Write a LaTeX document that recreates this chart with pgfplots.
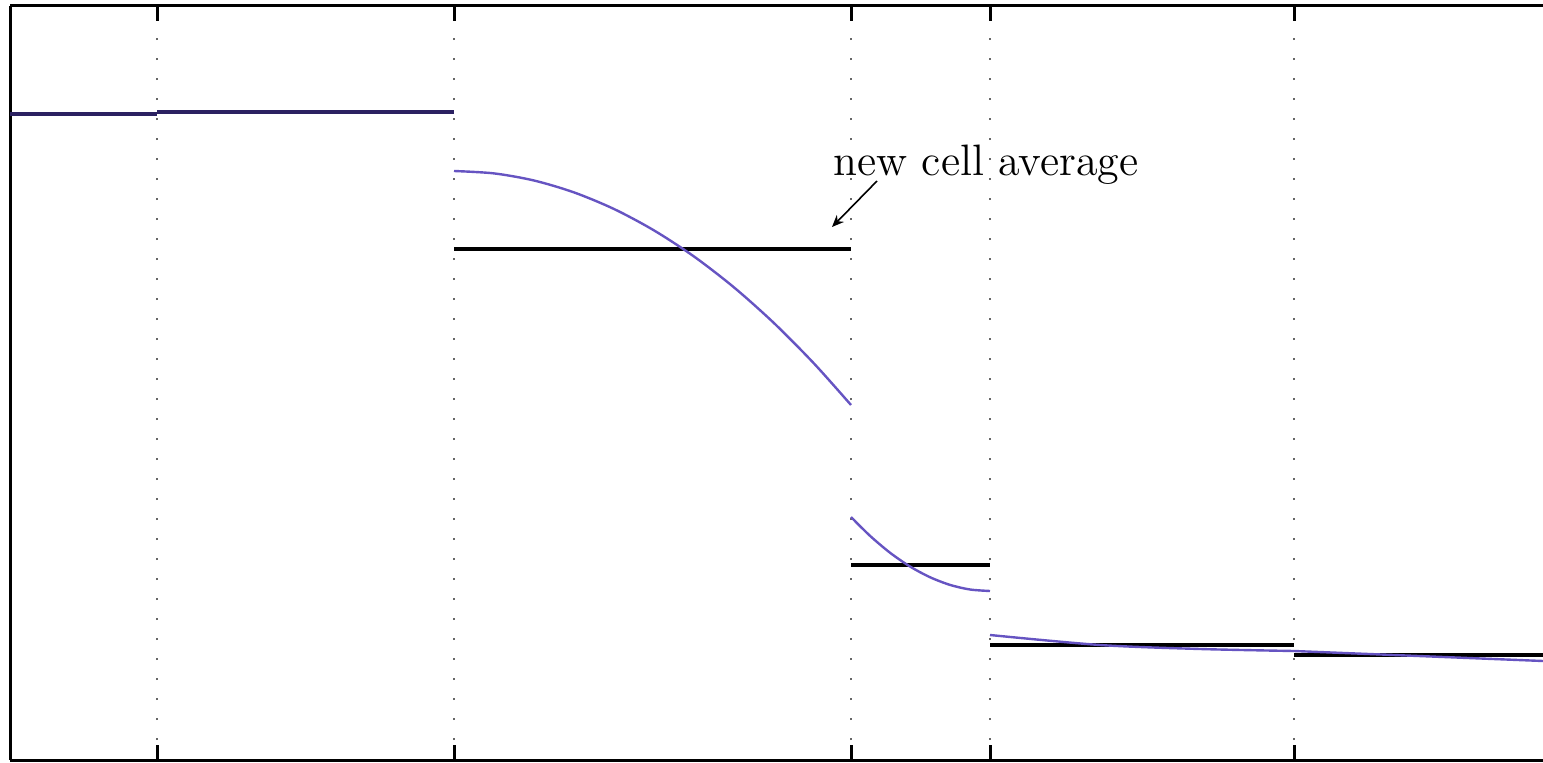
\documentclass[border=0pt]{standalone}
\usepackage{pgfplots}
\pgfplotsset{compat=1.18}
\usetikzlibrary{arrows.meta}
\definecolor{curveblue}{rgb}{0.40,0.33,0.76}
\definecolor{navy}{rgb}{0.17,0.13,0.38}
\begin{document}
\begin{tikzpicture}
\useasboundingbox (0,0) rectangle (385.75pt,190.5pt);
\begin{axis}[
  at={(2.5pt,0.5pt)}, anchor=south west,
  scale only axis, width=383.25pt, height=188.5pt,
  xmin=10, xmax=1543, ymin=2, ymax=756,
  axis x line*=box, axis y line*=left,
  axis line style={line width=0.75pt},
  xtick={157,454,851,990,1294}, xticklabels={},
  ytick=\empty,
  major tick length=3.75pt,
  tick style={line width=0.75pt, black},
  xmajorgrids,
  grid style={gray!80!black, line width=0.7pt, dash pattern=on 0.4pt off 4.6pt},
]
% cells 1,2 (average and reconstruction coincide)
\addplot[navy, line width=1pt] coordinates {(10,648) (157,648)};
\addplot[navy, line width=1pt] coordinates {(157,650) (454,650)};
% cell averages
\addplot[black, line width=1pt] coordinates {(454,513) (851,513)};
\addplot[black, line width=1pt] coordinates {(851,197) (990,197)};
\addplot[black, line width=1pt] coordinates {(990,117) (1294,117)};
\addplot[black, line width=1pt] coordinates {(1294,107) (1543,107)};
% reconstructions
\addplot[curveblue, line width=0.6pt, smooth] coordinates {
 (454,591) (494,588.6) (534,581.5) (574,569.6) (614,553) (654,531.6)
 (694,505.5) (734,474.6) (774,438.9) (814,398.5) (851,357)};
\addplot[curveblue, line width=0.6pt, smooth] coordinates {
 (851,245) (870,226.2) (890,209.3) (910,195.5) (930,184.8) (950,177.1) (970,172.5) (990,171)};
\addplot[curveblue, line width=0.6pt, smooth] coordinates {
 (990,127) (1100,117) (1200,113) (1294,111)};
\addplot[curveblue, line width=0.6pt] coordinates {
 (1294,111) (1543,101)};
% annotation
\draw[-{Stealth[length=3pt,width=2.5pt]}, line width=0.4pt] (axis cs:877,581) -- (axis cs:832,535);
\node[font=\fontsize{11}{13}\selectfont, inner sep=0pt] at (axis cs:986,597) {new cell average};
\end{axis}
\end{tikzpicture}
\end{document}
